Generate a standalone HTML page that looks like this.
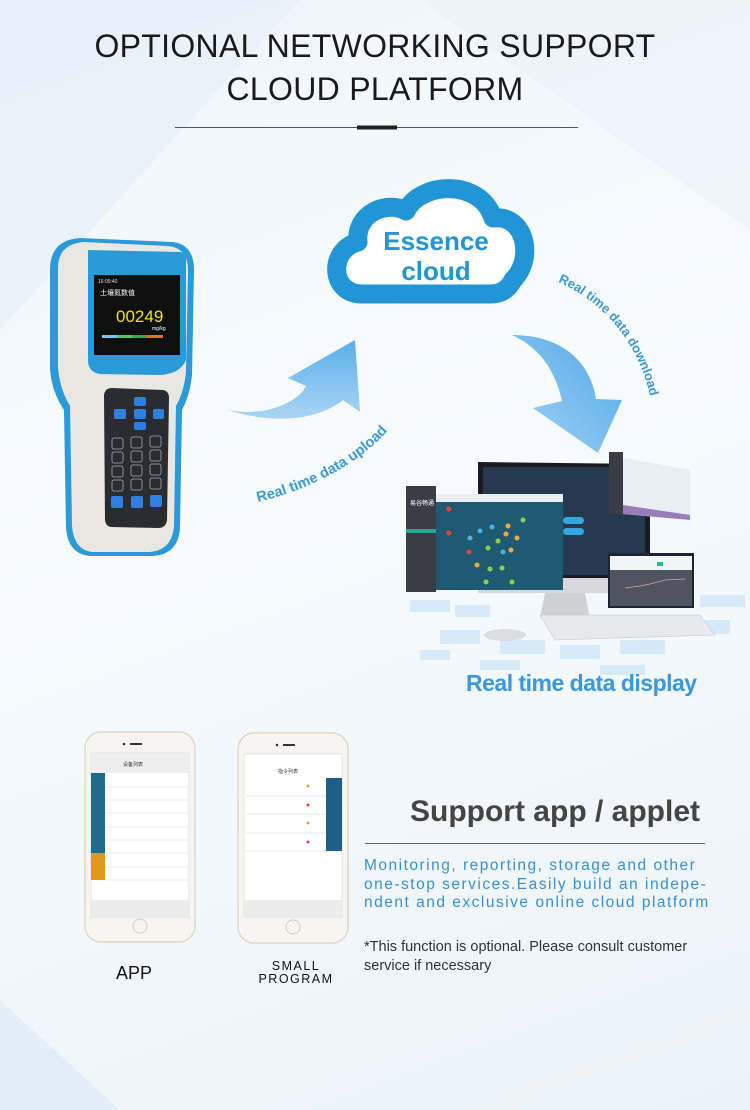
<!DOCTYPE html>
<html><head><meta charset="utf-8"><style>
html,body{margin:0;padding:0}
body{width:750px;height:1110px;position:relative;overflow:hidden;font-family:"Liberation Sans","Noto Sans CJK SC",sans-serif;background:linear-gradient(160deg,#eef5fb 0%,#f7fbfe 40%,#f1f7fc 70%,#eaf3fa 100%)}
.abs{position:absolute}
</style></head><body>
<svg class="abs" style="left:0;top:0" width="750" height="1110" viewBox="0 0 750 1110">
<defs>
<linearGradient id="ar" x1="0" y1="0" x2="0" y2="1"><stop offset="0" stop-color="#5aaeea"/><stop offset="1" stop-color="#a9d5f5"/></linearGradient>
<linearGradient id="ar2" x1="0" y1="1" x2="1" y2="0"><stop offset="0" stop-color="#a6d3f5"/><stop offset="1" stop-color="#4ea7e8"/></linearGradient>
</defs>
<polygon points="0,0 300,0 0,330" fill="#e6f0f8" opacity=".7"/>
<polygon points="420,0 750,0 750,230" fill="#e9f2f9" opacity=".7"/>
<polygon points="0,1000 120,1110 0,1110" fill="#e3eef7"/>
<line x1="175" y1="127.5" x2="578" y2="127.5" stroke="#555" stroke-width="1"/>
<rect x="357" y="125.5" width="40" height="4" fill="#222"/>
<!-- cloud -->
<path d="M362,294 C330,294 328,250 358,242 C355,214 386,200 406,211 C420,182 480,178 493,218 C525,214 535,258 513,280 C508,290 500,294 490,294 Z" fill="#fff" stroke="#2196d6" stroke-width="19" stroke-linejoin="round"/>
<text x="436" y="250" text-anchor="middle" font-size="26" font-weight="bold" fill="#2196d6">Essence</text>
<text x="436" y="280" text-anchor="middle" font-size="26" font-weight="bold" fill="#2196d6">cloud</text>
<path d="M228,410 C268,418 300,400 306,386 L288,378 L355,340 L360,412 L343,400 C318,420 275,425 228,410 Z" fill="url(#ar)"/>
<path d="M512,335 C560,335 590,360 596,399 L622,400 L598,453 L533,408 L562,401 C555,370 540,348 512,335 Z" fill="url(#ar2)"/>
<path id="up" d="M258,502 C310,490 370,460 400,415" fill="none"/>
<text font-size="14.5" font-weight="bold" fill="#3a97e0"><textPath href="#up">Real time data upload</textPath></text>
<path id="dn" d="M558,282 C600,300 640,340 652,405" fill="none"/>
<text font-size="13" font-weight="bold" fill="#3a97e0"><textPath href="#dn">Real time data download</textPath></text>
<!-- device -->
<g>
<path d="M50,270 Q50,240 80,238 L172,242 Q194,244 194,270 L192,375 Q190,395 182,410 L180,528 Q178,556 150,556 L90,556 Q68,554 66,528 L64,410 Q52,392 50,370 Z" fill="#2a9ad9"/>
<path d="M58,268 Q58,244 84,242 L168,246 Q188,248 188,270 L186,372 Q184,392 176,406 L174,526 Q172,550 150,552 L92,552 Q74,550 72,526 L70,406 Q60,390 58,368 Z" fill="#e9e7e1"/>
<path d="M88,250 L180,252 Q186,252 186,260 L186,360 Q180,374 160,375 L100,374 Q88,372 88,360 Z" fill="#2a9ad9"/>
<rect x="94" y="275" width="86" height="80" fill="#0f0f10"/>
<text x="98" y="283" font-size="5" fill="#ddd">16:09:40</text>
<text x="100" y="295" font-size="7" fill="#fff" font-family="Noto Sans CJK SC">土壤氮数值</text>
<text x="116" y="322" font-size="17" fill="#f4e300">00249</text>
<text x="152" y="330" font-size="5" fill="#fff">mg/kg</text>
<rect x="102" y="335" width="15" height="3" fill="#7cc6ee"/><rect x="117" y="335" width="15" height="3" fill="#5cbf62"/><rect x="132" y="335" width="15" height="3" fill="#36a45a"/><rect x="147" y="335" width="16" height="3" fill="#ef6b22"/>
<path d="M104,395 Q105,388 112,388 L163,390 Q169,391 169,398 L167,520 Q166,528 158,528 L112,527 Q106,527 105,520 Z" fill="#2a2c31"/>
<g fill="#2e7fe0"><rect x="134" y="397" width="12" height="9" rx="2"/><rect x="114" y="409" width="12" height="10" rx="2"/><rect x="134" y="409" width="12" height="10" rx="2"/><rect x="153" y="409" width="11" height="10" rx="2"/><rect x="134" y="422" width="12" height="8" rx="2"/>
<rect x="111" y="496" width="12" height="12" rx="2"/><rect x="131" y="496" width="12" height="12" rx="2"/><rect x="150" y="495" width="12" height="12" rx="2"/></g>
<g fill="none" stroke="#aaa" stroke-width=".8">
<rect x="112" y="438" width="11" height="11" rx="2"/><rect x="131" y="437" width="11" height="11" rx="2"/><rect x="150" y="436" width="11" height="11" rx="2"/>
<rect x="112" y="452" width="11" height="11" rx="2"/><rect x="131" y="451" width="11" height="11" rx="2"/><rect x="150" y="450" width="11" height="11" rx="2"/>
<rect x="112" y="466" width="11" height="11" rx="2"/><rect x="131" y="465" width="11" height="11" rx="2"/><rect x="150" y="464" width="11" height="11" rx="2"/>
<rect x="112" y="480" width="11" height="11" rx="2"/><rect x="131" y="479" width="11" height="11" rx="2"/><rect x="150" y="478" width="11" height="11" rx="2"/></g>
</g>
<g opacity=".55" fill="#bfe0f6">
<rect x="410" y="600" width="40" height="12"/><rect x="455" y="605" width="35" height="12"/><rect x="440" y="630" width="40" height="14"/><rect x="500" y="640" width="45" height="14"/><rect x="560" y="645" width="40" height="14"/><rect x="620" y="640" width="45" height="14"/><rect x="680" y="620" width="50" height="14"/><rect x="700" y="595" width="45" height="12"/><rect x="480" y="660" width="40" height="10"/><rect x="600" y="665" width="45" height="10"/><rect x="420" y="650" width="30" height="10"/>
</g>
<path d="M478,462 L646,464 Q650,464 650,468 L650,585 L478,585 Z" fill="#1b1c20"/>
<rect x="483" y="467" width="162" height="108" fill="#253a4f"/>
<rect x="478" y="578" width="172" height="15" fill="#d8d8dc"/>
<path d="M545,593 L585,593 L590,618 L540,618 Z" fill="#cfd0d4"/>
<path d="M540,615 L700,615 L715,635 L555,640 Z" fill="#e8e9ec" stroke="#c8c8cc" stroke-width=".6"/>
<ellipse cx="505" cy="635" rx="21" ry="6" fill="#dcdde0"/>
<rect x="406" y="486" width="30" height="106" fill="#3a3d45"/>
<rect x="406" y="529" width="30" height="4" fill="#21a89a"/>
<text x="410" y="505" font-size="6" fill="#fff" font-family="Noto Sans CJK SC">易谷畅通</text>
<rect x="436" y="494" width="127" height="96" fill="#1e5a72"/>
<rect x="436" y="494" width="127" height="8" fill="#e8eef2"/>
<g fill="#f4a83a"><circle cx="508" cy="526" r="2.5"/><circle cx="506" cy="534" r="2.5"/><circle cx="517" cy="538" r="2.5"/><circle cx="511" cy="550" r="2.5"/><circle cx="477" cy="565" r="2.5"/></g>
<g fill="#8ad24a"><circle cx="523" cy="520" r="2.5"/><circle cx="498" cy="541" r="2.5"/><circle cx="488" cy="548" r="2.5"/><circle cx="490" cy="569" r="2.5"/><circle cx="502" cy="568" r="2.5"/><circle cx="486" cy="582" r="2.5"/><circle cx="512" cy="582" r="2.5"/></g>
<g fill="#4ab0e8"><circle cx="480" cy="531" r="2.5"/><circle cx="470" cy="538" r="2.5"/><circle cx="492" cy="527" r="2.5"/><circle cx="503" cy="552" r="2.5"/></g>
<g fill="#e84040"><circle cx="449" cy="509" r="2.5"/><circle cx="449" cy="533" r="2.5"/><circle cx="469" cy="552" r="2.5"/></g>
<rect x="563" y="517" width="21" height="7" rx="3.5" fill="#35a6e0"/><rect x="563" y="528" width="21" height="7" rx="3.5" fill="#35a6e0"/>
<path d="M609,452 L623,452 L623,514 L609,514 Z" fill="#3a3d45"/>
<path d="M623,458 L690,470 L690,520 L623,514 Z" fill="#e9eef5"/>
<path d="M623,505 L690,515 L690,520 L623,514 Z" fill="#9a7cb8"/>
<rect x="608" y="553" width="86" height="55" fill="#1a2536"/>
<rect x="610" y="556" width="82" height="50" fill="#4f555f"/>
<rect x="610" y="556" width="82" height="14" fill="#f2f4f6"/>
<rect x="657" y="562" width="6" height="4" fill="#27b5a8"/>
<polyline points="625,588 640,586 650,584 665,580 685,579" fill="none" stroke="#d9a0a0" stroke-width=".8"/>
<g>
<rect x="85" y="732" width="110" height="210" rx="16" fill="#f7f5f2" stroke="#e3d7c5" stroke-width="1.5"/>
<rect x="91" y="753" width="98" height="164" fill="#fff" stroke="#ccc" stroke-width=".5"/>
<rect x="91" y="753" width="98" height="20" fill="#eeeeee"/>
<rect x="91" y="773" width="14" height="80" fill="#1f6b8a"/>
<rect x="91" y="853" width="14" height="27" fill="#e09816"/>
<g stroke="#e3e3e3" stroke-width=".8"><line x1="105" y1="787" x2="189" y2="787"/><line x1="105" y1="800" x2="189" y2="800"/><line x1="105" y1="813" x2="189" y2="813"/><line x1="105" y1="827" x2="189" y2="827"/><line x1="105" y1="840" x2="189" y2="840"/><line x1="105" y1="853" x2="189" y2="853"/><line x1="105" y1="867" x2="189" y2="867"/><line x1="105" y1="880" x2="189" y2="880"/></g>
<rect x="91" y="900" width="98" height="17" fill="#ececec"/>
<circle cx="140" cy="926" r="7" fill="none" stroke="#ccc"/>
<rect x="130" y="743" width="12" height="2" fill="#333"/><circle cx="124" cy="744" r="1.3" fill="#333"/>
<text x="133" y="766" font-size="5" text-anchor="middle" fill="#333" font-family="Noto Sans CJK SC">设备列表</text>
</g>
<g>
<rect x="238" y="733" width="110" height="210" rx="16" fill="#f7f5f2" stroke="#e3d7c5" stroke-width="1.5"/>
<rect x="244" y="754" width="98" height="163" fill="#fff" stroke="#ccc" stroke-width=".5"/>
<rect x="326" y="778" width="16" height="73" fill="#1f5e86"/>
<g stroke="#e3e3e3" stroke-width=".8"><line x1="246" y1="796" x2="326" y2="796"/><line x1="246" y1="814" x2="326" y2="814"/><line x1="246" y1="833" x2="326" y2="833"/><line x1="246" y1="851" x2="326" y2="851"/></g>
<g fill="#f4a030"><circle cx="308" cy="786" r="1.5"/><circle cx="308" cy="823" r="1.5"/></g>
<g fill="#e84040"><circle cx="308" cy="805" r="1.5"/><circle cx="308" cy="842" r="1.5"/></g>
<rect x="244" y="900" width="98" height="17" fill="#ececec"/>
<circle cx="293" cy="927" r="7" fill="none" stroke="#ccc"/>
<rect x="283" y="744" width="12" height="2" fill="#333"/><circle cx="277" cy="745" r="1.3" fill="#333"/>
<text x="288" y="773" font-size="5" text-anchor="middle" fill="#333" font-family="Noto Sans CJK SC">指令列表</text>
</g>
<line x1="365" y1="843.5" x2="705" y2="843.5" stroke="#666" stroke-width="1"/>
</svg>
<div class="abs" style="left:0;width:750px;top:25px;text-align:center;font-size:32px;line-height:43px;color:#1a1a1a;letter-spacing:0.3px">OPTIONAL NETWORKING SUPPORT<br>CLOUD PLATFORM</div>
<div class="abs" style="left:466px;top:670px;font-size:23px;font-weight:bold;color:#3a97e0;letter-spacing:-0.5px">Real time data display</div>
<div class="abs" style="left:410px;top:795px;font-size:30px;color:#444;font-weight:bold">Support app / applet</div>
<div class="abs" style="left:364px;top:857px;width:380px;font-size:15.5px;line-height:18.5px;color:#3a8fd6;letter-spacing:1.5px;white-space:nowrap">Monitoring, reporting, storage and other<br>one-stop services.Easily build an indepe-<br>ndent and exclusive online cloud platform</div>
<div class="abs" style="left:364px;top:938px;font-size:14.5px;line-height:19px;color:#333;white-space:nowrap">*This function is optional. Please consult customer<br>service if necessary</div>
<div class="abs" style="left:100px;top:963px;width:68px;text-align:center;font-size:18px;color:#111">APP</div>
<div class="abs" style="left:246px;top:960px;width:100px;text-align:center;font-size:12.5px;line-height:13px;color:#111;letter-spacing:1.5px">SMALL<br>PROGRAM</div>
</body></html>
